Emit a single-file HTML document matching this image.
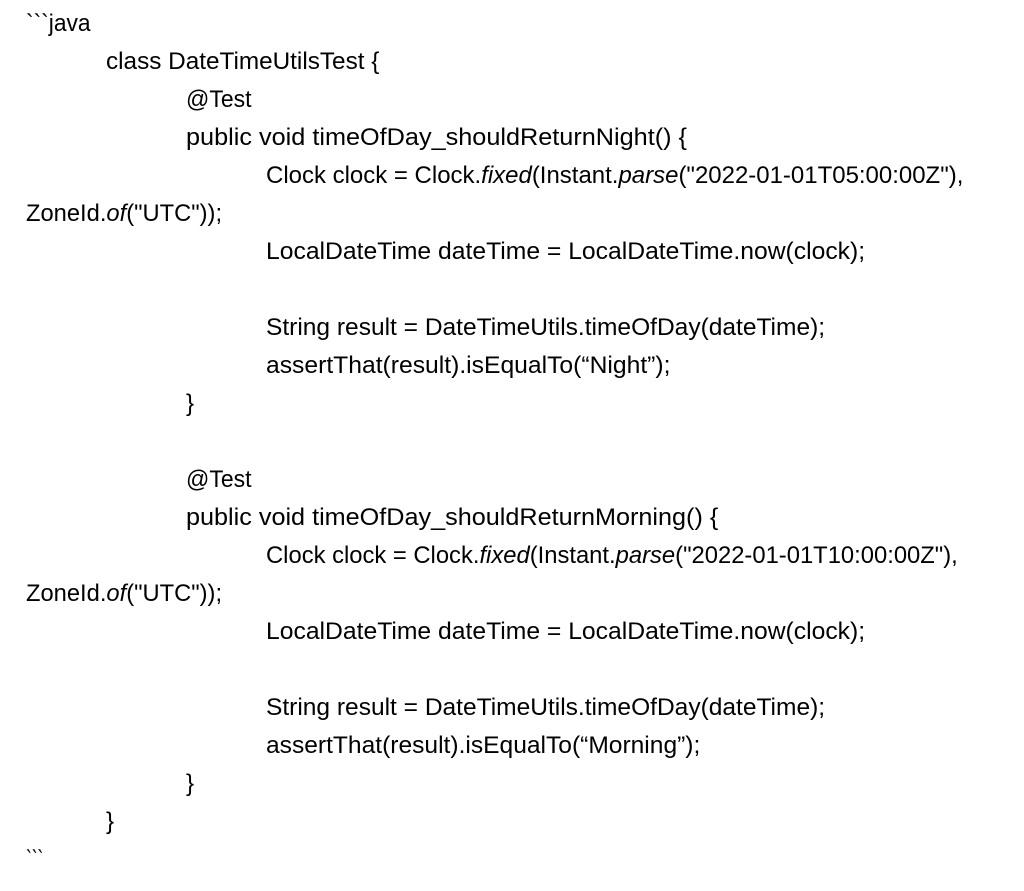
<!DOCTYPE html>
<html>
<head>
<meta charset="utf-8">
<style>
html,body{margin:0;padding:0;background:#fff;}
body{width:1024px;height:891px;overflow:hidden;position:relative;}
.code{position:absolute;left:0;top:5px;width:1024px;}
.ln{position:relative;height:38px;line-height:38px;white-space:pre;font-family:"Liberation Sans",sans-serif;font-size:24px;color:#000;}
.ln span.t{display:inline-block;transform-origin:0 50%;}
.i{font-style:italic;}
.l0{padding-left:26px;}
.l1{padding-left:106px;}
.l2{padding-left:186px;}
.l3{padding-left:266px;}
</style>
</head>
<body>
<div class="code">
<div class="ln l0"><span class="t" style="transform:scaleX(0.95)">&#96;&#96;&#96;java</span></div>
<div class="ln l1"><span class="t" style="transform:scaleX(1.013)">class DateTimeUtilsTest {</span></div>
<div class="ln l2"><span class="t" style="transform:scaleX(0.958)">@Test</span></div>
<div class="ln l2"><span class="t" style="transform:scaleX(1.052)">public void timeOfDay_shouldReturnNight() {</span></div>
<div class="ln l3"><span class="t" style="transform:scaleX(0.999)">Clock clock = Clock.<span class="i">fixed</span>(Instant.<span class="i">parse</span>("2022-01-01T05:00:00Z"),</span></div>
<div class="ln l0"><span class="t" style="transform:scaleX(0.988)">ZoneId.<span class="i">of</span>("UTC"));</span></div>
<div class="ln l3"><span class="t" style="transform:scaleX(1.029)">LocalDateTime dateTime = LocalDateTime.now(clock);</span></div>
<div class="ln l3"> </div>
<div class="ln l3"><span class="t" style="transform:scaleX(1.022)">String result = DateTimeUtils.timeOfDay(dateTime);</span></div>
<div class="ln l3"><span class="t" style="transform:scaleX(1.028)">assertThat(result).isEqualTo(“Night”);</span></div>
<div class="ln l2"><span class="t">}</span></div>
<div class="ln l2"> </div>
<div class="ln l2"><span class="t" style="transform:scaleX(0.958)">@Test</span></div>
<div class="ln l2"><span class="t" style="transform:scaleX(1.050)">public void timeOfDay_shouldReturnMorning() {</span></div>
<div class="ln l3"><span class="t" style="transform:scaleX(0.991)">Clock clock = Clock.<span class="i">fixed</span>(Instant.<span class="i">parse</span>("2022-01-01T10:00:00Z"),</span></div>
<div class="ln l0"><span class="t" style="transform:scaleX(0.988)">ZoneId.<span class="i">of</span>("UTC"));</span></div>
<div class="ln l3"><span class="t" style="transform:scaleX(1.029)">LocalDateTime dateTime = LocalDateTime.now(clock);</span></div>
<div class="ln l3"> </div>
<div class="ln l3"><span class="t" style="transform:scaleX(1.022)">String result = DateTimeUtils.timeOfDay(dateTime);</span></div>
<div class="ln l3"><span class="t" style="transform:scaleX(1.024)">assertThat(result).isEqualTo(“Morning”);</span></div>
<div class="ln l2"><span class="t">}</span></div>
<div class="ln l1"><span class="t">}</span></div>
<div class="ln l0"><span class="t" style="transform:scaleX(0.72)">&#96;&#96;&#96;</span></div>
</div>
</body>
</html>
